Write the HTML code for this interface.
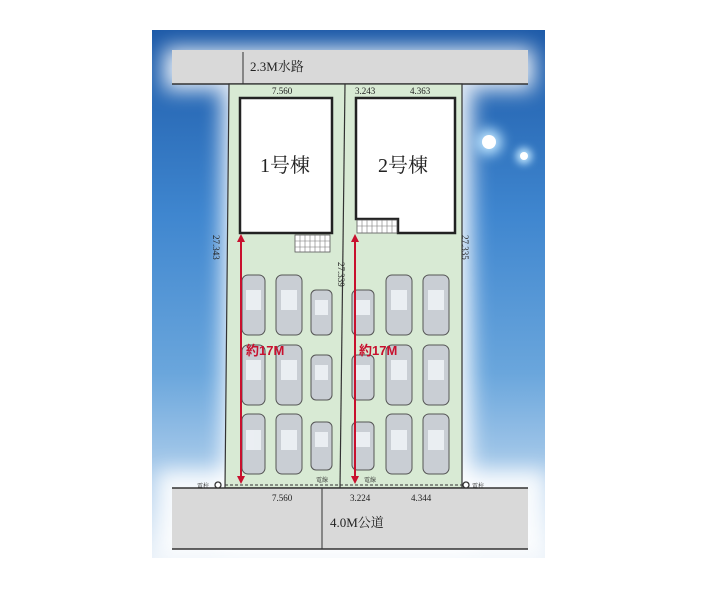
<!DOCTYPE html>
<html><head><meta charset="utf-8"><style>
body{margin:0;width:705px;height:589px;background:#fff;overflow:hidden;position:relative;font-family:"Liberation Serif","Noto Serif CJK SC",serif}
.bg{position:absolute;left:152px;top:30px;width:393px;height:528px;background:linear-gradient(180deg,#1d5aa8 0%,#3f86cf 35%,#6aa6dc 65%,#b9d4ee 88%,#e8f0f8 100%);overflow:hidden}
.glow{position:absolute;background:#fff;filter:blur(10px);opacity:.9}
.a{position:absolute}
</style></head><body>
<div class="bg">
<div class="glow" style="left:12px;top:18px;width:370px;height:42px"></div>
<div class="glow" style="left:70px;top:50px;width:250px;height:470px"></div>
<div class="glow" style="left:5px;top:440px;width:390px;height:90px"></div>
<div class="a" style="left:330px;top:105px;width:14px;height:14px;border-radius:50%;background:#fff;box-shadow:0 0 12px 6px #bfe6ff"></div>
<div class="a" style="left:368px;top:122px;width:8px;height:8px;border-radius:50%;background:#fff;box-shadow:0 0 8px 4px #bfe6ff"></div>
</div>
<svg class="a" style="left:0;top:0" width="705" height="589" viewBox="0 0 705 589">
<rect x="172" y="50" width="356" height="34" fill="#d9d9d9"/>
<line x1="172" y1="84" x2="528" y2="84" stroke="#333" stroke-width="1.5"/>
<line x1="243" y1="52" x2="243" y2="84" stroke="#333"/>
<path d="M229 84 L462 84 L462 488 L225 488 Z" fill="#d8ead4" stroke="#333" stroke-width="1.2"/>
<line x1="345" y1="84" x2="340" y2="488" stroke="#333" stroke-width="1.2"/>
<rect x="172" y="488" width="356" height="61" fill="#d9d9d9"/>
<line x1="172" y1="488" x2="528" y2="488" stroke="#333" stroke-width="1.5"/>
<line x1="172" y1="549" x2="528" y2="549" stroke="#333" stroke-width="1.5"/>
<line x1="322" y1="488" x2="322" y2="549" stroke="#333"/>
<line x1="225" y1="485" x2="462" y2="485" stroke="#333" stroke-dasharray="3,2"/>
<circle cx="218" cy="485" r="3" fill="#fff" stroke="#333" stroke-width="1.3"/>
<circle cx="466" cy="485" r="3" fill="#fff" stroke="#333" stroke-width="1.3"/>
<rect x="240" y="98" width="92" height="135" fill="#fff" stroke="#222" stroke-width="2.5"/>
<path d="M356 98 H455 V233 H398 V219 H356 Z" fill="#fff" stroke="#222" stroke-width="2.5"/>
<rect x="295" y="235" width="35" height="17" fill="#fff" stroke="#555" stroke-width=".8"/>
<rect x="357" y="220" width="40" height="13" fill="#fff" stroke="#555" stroke-width=".8"/>
<g stroke="#777" stroke-width=".6">
<path d="M300 235V252M305 235V252M310 235V252M315 235V252M320 235V252M325 235V252M295 241H330M295 247H330"/>
<path d="M362 220V233M367 220V233M372 220V233M377 220V233M382 220V233M387 220V233M392 220V233M357 226H397"/>
</g>
<g fill="#c9ced4" stroke="#555" stroke-width="1">
<rect x="242" y="275" width="23" height="60" rx="6"/><rect x="276" y="275" width="26" height="60" rx="6"/><rect x="311" y="290" width="21" height="45" rx="5"/>
<rect x="242" y="345" width="23" height="60" rx="6"/><rect x="276" y="345" width="26" height="60" rx="6"/><rect x="311" y="355" width="21" height="45" rx="5"/>
<rect x="242" y="414" width="23" height="60" rx="6"/><rect x="276" y="414" width="26" height="60" rx="6"/><rect x="311" y="422" width="21" height="48" rx="5"/>
<rect x="352" y="290" width="22" height="45" rx="5"/><rect x="386" y="275" width="26" height="60" rx="6"/><rect x="423" y="275" width="26" height="60" rx="6"/>
<rect x="352" y="355" width="22" height="45" rx="5"/><rect x="386" y="345" width="26" height="60" rx="6"/><rect x="423" y="345" width="26" height="60" rx="6"/>
<rect x="352" y="422" width="22" height="48" rx="5"/><rect x="386" y="414" width="26" height="60" rx="6"/><rect x="423" y="414" width="26" height="60" rx="6"/>
</g>
<g fill="#eef2f6" opacity=".9">
<rect x="246" y="290" width="15" height="20"/><rect x="281" y="290" width="16" height="20"/><rect x="315" y="300" width="13" height="15"/>
<rect x="246" y="360" width="15" height="20"/><rect x="281" y="360" width="16" height="20"/><rect x="315" y="365" width="13" height="15"/>
<rect x="246" y="430" width="15" height="20"/><rect x="281" y="430" width="16" height="20"/><rect x="315" y="432" width="13" height="15"/>
<rect x="356" y="300" width="14" height="15"/><rect x="391" y="290" width="16" height="20"/><rect x="428" y="290" width="16" height="20"/>
<rect x="356" y="365" width="14" height="15"/><rect x="391" y="360" width="16" height="20"/><rect x="428" y="360" width="16" height="20"/>
<rect x="356" y="432" width="14" height="15"/><rect x="391" y="430" width="16" height="20"/><rect x="428" y="430" width="16" height="20"/>
</g>
<g stroke="#c8102e" stroke-width="2" fill="#c8102e">
<line x1="241" y1="240" x2="241" y2="478"/><line x1="355" y1="240" x2="355" y2="478"/>
<path d="M237 242L241 234L245 242Z M237 476L241 484L245 476Z M351 242L355 234L359 242Z M351 476L355 484L359 476Z" stroke="none"/>
</g>
<g font-family="Liberation Serif,Noto Serif CJK SC,serif" fill="#222">
<text x="250" y="71" font-size="13">2.3M水路</text>
<text x="272" y="94" font-size="9">7.560</text>
<text x="355" y="94" font-size="9">3.243</text><text x="410" y="94" font-size="9">4.363</text>
<text x="260" y="172" font-size="20">1号棟</text>
<text x="378" y="172" font-size="20">2号棟</text>
<text x="272" y="501" font-size="9">7.560</text>
<text x="350" y="501" font-size="9">3.224</text><text x="411" y="501" font-size="9">4.344</text>
<text x="330" y="527" font-size="13">4.0M公道</text>
<text x="197" y="488" font-size="6">電柱</text><text x="472" y="488" font-size="6">電柱</text>
<text x="316" y="482" font-size="6">電線</text><text x="364" y="482" font-size="6">電線</text>
<text font-size="9" transform="translate(213,235) rotate(90)">27.343</text>
<text font-size="9" transform="translate(462,235) rotate(90)">27.335</text>
<text font-size="9" transform="translate(338,262) rotate(90)">27.339</text>
</g>
<g font-family="Liberation Sans,Noto Sans CJK JP,sans-serif" font-weight="bold" font-size="13" fill="#c8102e">
<text x="246" y="355">約17M</text><text x="359" y="355">約17M</text>
</g>
</svg>
</body></html>
